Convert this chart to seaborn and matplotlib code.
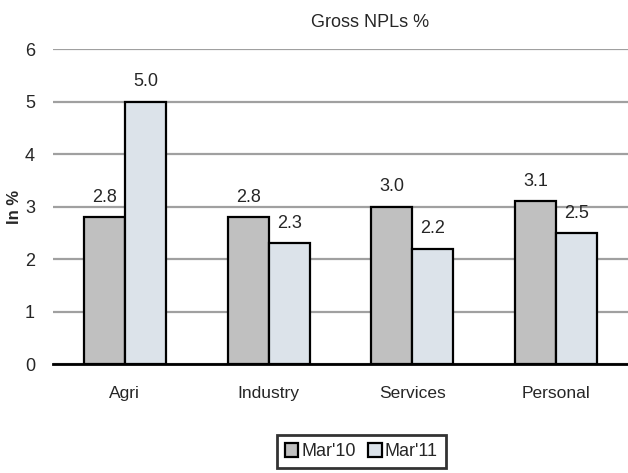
import matplotlib
matplotlib.use("Agg")
import matplotlib.pyplot as plt
import seaborn as sns
import pandas as pd
from matplotlib.patches import Patch
from matplotlib.ticker import FixedLocator

categories = ["Agri", "Industry", "Services", "Personal"]
series_names = ["Mar'10", "Mar'11"]
mar10 = [2.8, 2.8, 3.0, 3.1]
mar11 = [5.0, 2.3, 2.2, 2.5]
yticks = [0, 1, 2, 3, 4, 5, 6]

colors = ["#C0C0C0", "#DCE3EA"]

df = pd.DataFrame({
    "Sector": categories * 2,
    "Period": [series_names[0]] * len(categories) + [series_names[1]] * len(categories),
    "Value": mar10 + mar11,
})

sns.set_style("white")
plt.rcParams["font.family"] = ["Liberation Sans", "DejaVu Sans"]

fig = plt.figure(figsize=(6.28, 4.73), dpi=100)
ax = fig.add_axes([0.0844, 0.2304, 0.9156, 0.6660])

sns.barplot(data=df, x="Sector", y="Value", hue="Period", order=categories,
            hue_order=series_names, palette=colors, width=0.57, gap=0,
            edgecolor="black", linewidth=1.6, saturation=1, ax=ax, legend=False)

ax.set_ylim(0, 6)
ax.set_xlim(-0.5, len(categories) - 0.5)
ax.set_yticks(yticks)
ax.yaxis.grid(True, color="#A0A0A0", linewidth=1.6)
ax.set_axisbelow(True)

for s in ["top", "right", "left"]:
    ax.spines[s].set_visible(False)
ax.spines["bottom"].set_color("black")
ax.spines["bottom"].set_linewidth(2)

# category labels centred, tick marks on the boundaries between them
ax.tick_params(axis="x", which="major", length=0, pad=16, labelsize=12.5)
ax.xaxis.set_minor_locator(FixedLocator([i - 0.5 for i in range(len(categories) + 1)]))
ax.tick_params(axis="x", which="minor", length=6, width=1.6, color="black", direction="out")
ax.tick_params(axis="y", length=0, pad=13, labelsize=13)

ax.set_xlabel("")
ax.set_ylabel("In %", fontsize=12, fontweight="bold", labelpad=2)

for container in ax.containers:
    ax.bar_label(container, fmt="%.1f", padding=8, fontsize=13)

fig.text(0.59, 0.952, "Gross NPLs %", ha="center", va="center", fontsize=13)

handles = [Patch(facecolor=c, edgecolor="black", linewidth=1.6) for c in colors]
leg = fig.legend(handles, series_names, loc="upper center", bbox_to_anchor=(0.575, 0.08),
                 ncol=2, frameon=True, fontsize=13, handlelength=0.75, handleheight=0.75,
                 handletextpad=0.15, columnspacing=0.7, borderpad=0.45,
                 fancybox=False, borderaxespad=0)
leg.get_frame().set_edgecolor("black")
leg.get_frame().set_linewidth(2)

fig.savefig("out.png", dpi=100)
